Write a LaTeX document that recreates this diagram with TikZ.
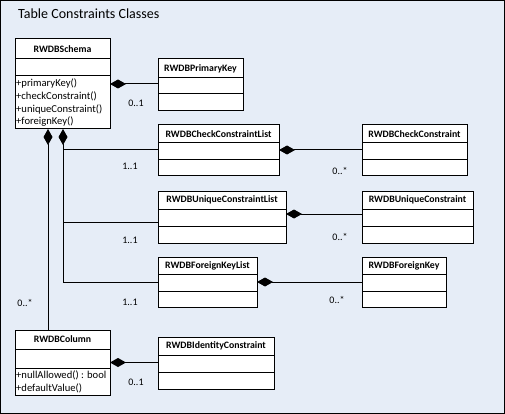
\documentclass[tikz,border=0pt]{standalone}
\usepackage{fontspec}
\setmainfont{Carlito}
\usetikzlibrary{arrows.meta}
\definecolor{bg}{HTML}{E6EDF7}
\newcommand\umlcls[8]{%
  \node[cls, minimum width=#4pt-#2pt, minimum height=#5pt-#3pt] (#1) at (#2,#3) {};
  \draw[ln] (#2,#6) -- (#4,#6) (#2,#7) -- (#4,#7);
  \node[ctitle] (#1-t) at ({(#2+#4)/2},{(#3+#6)/2}) {#8};
}
\begin{document}
\begin{tikzpicture}[x=1pt,y=-1pt,
  ln/.style={line width=1pt},
  cls/.style={draw, fill=white, line width=1pt, anchor=north west, inner sep=0pt, outer sep=0pt},
  ctitle/.style={font=\fontsize{9.8}{11}\selectfont\bfseries, inner sep=0pt},
  meth/.style={font=\fontsize{10.6}{12}\selectfont, anchor=west, inner sep=0pt},
  mult/.style={font=\fontsize{10}{12}\selectfont, inner sep=0pt},
  comp/.style={line width=1pt, {Diamond[length=16pt,width=9pt]}-}]
\useasboundingbox (0,0) rectangle (505,414);
\draw[fill=bg, line width=1.2pt] (0.6,0.6) rectangle (504.4,413.4);
\node[anchor=west, inner sep=0pt, font=\fontsize{14}{16}\selectfont] (title) at (18,14) {Table Constraints Classes};

\umlcls{schema}{15}{39}{110}{129}{59}{76}{RWDBSchema}
\umlcls{pk}{158}{59}{243}{111}{78}{94}{RWDBPrimaryKey}
\umlcls{ccl}{158}{125}{279}{175}{143}{159}{RWDBCheckConstraintList}
\umlcls{cc}{362}{125}{467}{175}{143}{159}{RWDBCheckConstraint}
\umlcls{ucl}{158}{191}{286}{243}{209}{226}{RWDBUniqueConstraintList}
\umlcls{uc}{362}{191}{473}{243}{209}{226}{RWDBUniqueConstraint}
\umlcls{fkl}{158}{257}{257}{307}{274}{291}{RWDBForeignKeyList}
\umlcls{fk}{362}{257}{446}{307}{274}{291}{RWDBForeignKey}
\umlcls{col}{15}{330}{110}{395}{349}{368}{RWDBColumn}
\umlcls{idc}{158}{337}{274}{389}{355}{372}{RWDBIdentityConstraint}

\node[meth] (m1) at (16,83) {+primaryKey()};
\node[meth] (m2) at (16,96) {+checkConstraint()};
\node[meth] (m3) at (16,109) {+uniqueConstraint()};
\node[meth] (m4) at (16,122) {+foreignKey()};
\node[meth] (m5) at (16,375) {+nullAllowed() : bool};
\node[meth] (m6) at (16,388) {+defaultValue()};

% connectors
\coordinate (busA) at ([xshift=33pt]schema.south west);
\coordinate (busB) at ([xshift=48pt]schema.south west);
\coordinate (colTop) at ([xshift=33pt]col.north west);
\coordinate (uclIn) at ([yshift=-5pt]ucl.west);
\coordinate (uclOut) at ([yshift=3pt]ucl.east);

\draw[comp] (schema.east) -- (schema.east -| pk.west);
\draw[comp] (busA) -- (colTop);
\draw[comp] (busB) |- (fkl.west);
\draw[ln] (busB |- ccl.west) -- (ccl.west);
\draw[ln] (busB |- uclIn) -- (uclIn);
\draw[comp] (ccl.east) -- (ccl.east -| cc.west);
\draw[comp] (uclOut) -- (uclOut -| uc.west);
\draw[comp] (fkl.east) -- (fkl.east -| fk.west);
\draw[comp] (col.east) -- (col.east -| idc.west);

% multiplicities
\node[mult] (l1) at (136,103) {0..1};
\node[mult] (l2) at (130,166) {1..1};
\node[mult] (l3) at (130,240) {1..1};
\node[mult] (l4) at (130,302) {1..1};
\node[mult] (l5) at (340,171) {0..*};
\node[mult] (l6) at (340,237) {0..*};
\node[mult] (l7) at (337,300) {0..*};
\node[mult] (l8) at (25,303) {0..*};
\node[mult] (l9) at (136,382) {0..1};
\end{tikzpicture}
\end{document}
